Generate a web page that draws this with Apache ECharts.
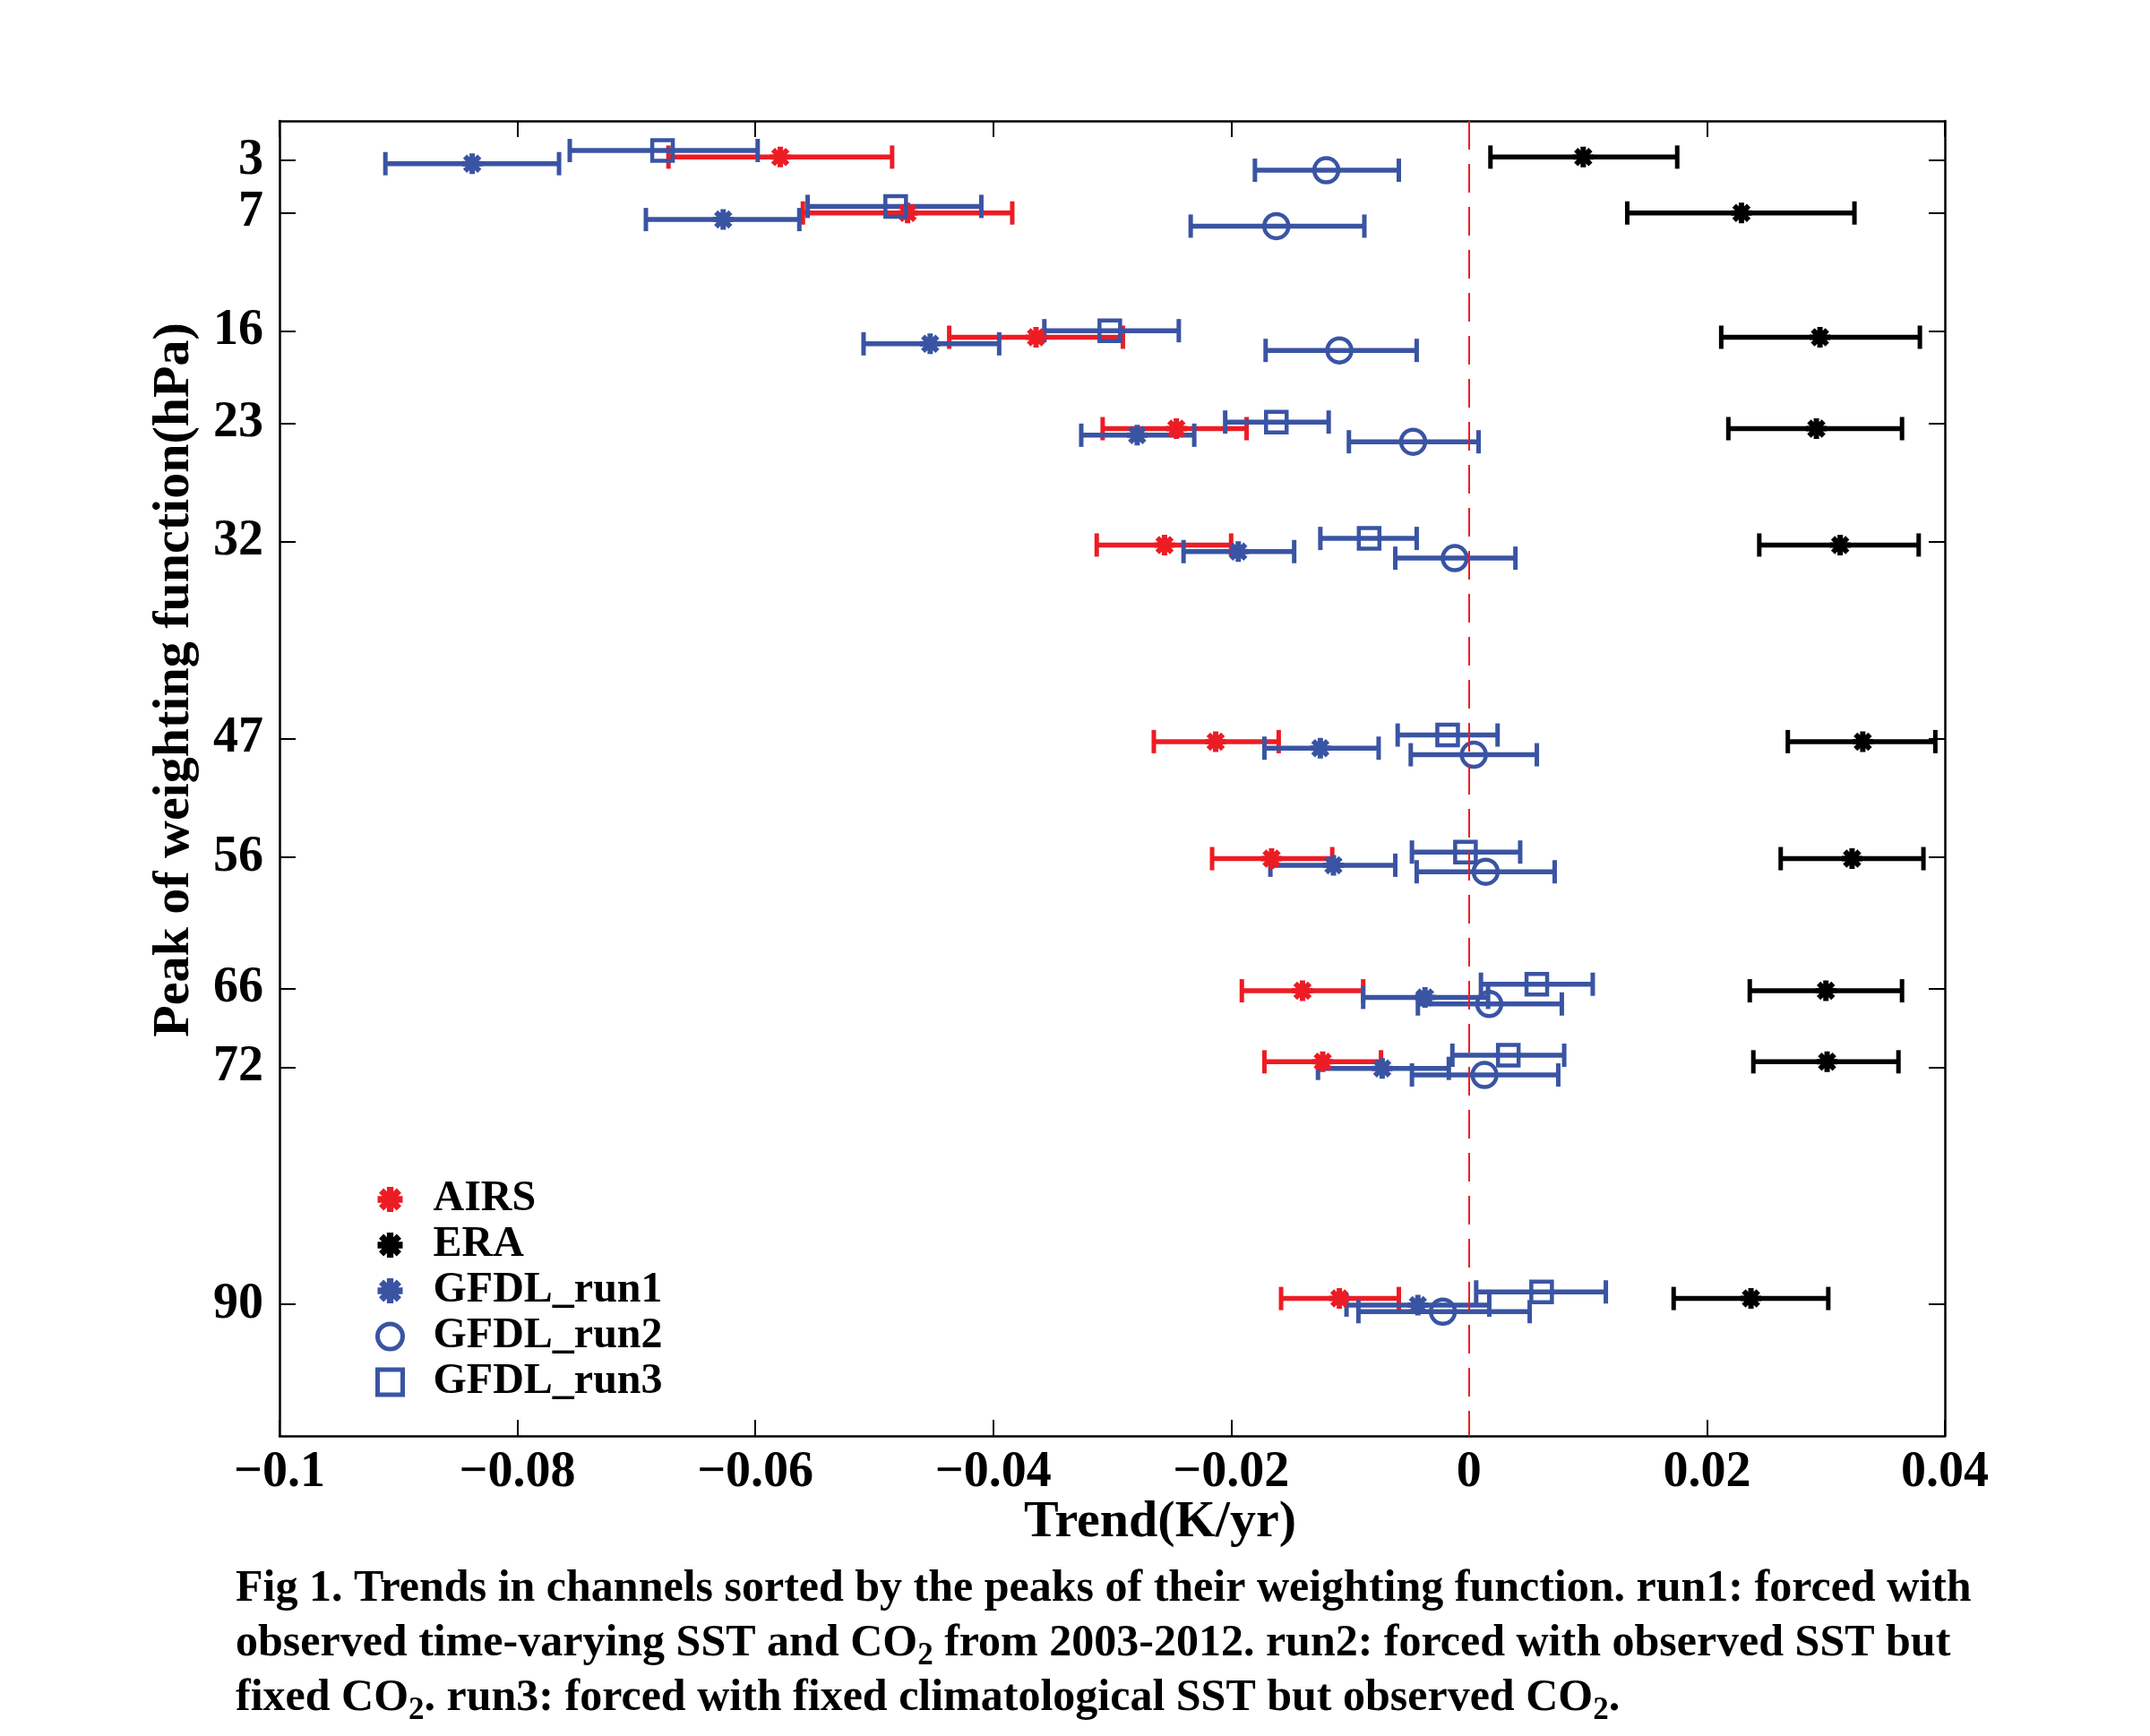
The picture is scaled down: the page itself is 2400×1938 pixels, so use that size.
<!DOCTYPE html>
<html>
<head>
<meta charset="utf-8">
<title>Trends by weighting function peak</title>
<script src="https://cdn.jsdelivr.net/npm/echarts@6/dist/echarts.min.js"></script>
<style>
  html, body { margin: 0; padding: 0; background: #fff; }
  #chart { width: 2400px; height: 1938px; }
</style>
</head>
<body>
<div id="chart"></div>
<script>
// tick labels on the pressure axis (hPa)
var yTicks = [3, 7, 16, 23, 32, 47, 56, 66, 72, 90];
// where the AIRS/ERA marks of each channel sit on the pressure axis
var levels = [2.75, 7, 16.45, 23.4, 32.25, 47.2, 56.1, 66.15, 71.55, 89.55];

// trend (K/yr): centre, lower end, upper end
var airsMid = [-0.0579, -0.0472, -0.0364, -0.0246, -0.0256, -0.0213, -0.0166, -0.0140, -0.0123, -0.0109];
var airsLo  = [-0.0673, -0.0560, -0.0437, -0.0308, -0.0313, -0.0265, -0.0216, -0.0191, -0.0172, -0.0158];
var airsHi  = [-0.0485, -0.0384, -0.0291, -0.0187, -0.0200, -0.0160, -0.0115, -0.0089, -0.0074, -0.0059];

var eraMid = [0.0096, 0.0229, 0.0295, 0.0292, 0.0312, 0.0331, 0.0322, 0.0300, 0.0301, 0.0237];
var eraLo  = [0.0018, 0.0133, 0.0212, 0.0218, 0.0244, 0.0268, 0.0262, 0.0236, 0.0239, 0.0172];
var eraHi  = [0.0175, 0.0324, 0.0379, 0.0364, 0.0378, 0.0392, 0.0382, 0.0364, 0.0361, 0.0302];

var run1Mid = [-0.0838, -0.0627, -0.0453, -0.0279, -0.0194, -0.0125, -0.0114, -0.0037, -0.0073, -0.0043];
var run1Lo  = [-0.0911, -0.0692, -0.0509, -0.0326, -0.0240, -0.0172, -0.0167, -0.0089, -0.0127, -0.0103];
var run1Hi  = [-0.0765, -0.0563, -0.0395, -0.0231, -0.0147, -0.0076, -0.0062, 0.0016, -0.0017, 0.0017];

var run2Mid = [-0.0120, -0.0162, -0.0109, -0.0047, -0.0012, 0.0004, 0.0014, 0.0017, 0.0013, -0.0022];
var run2Lo  = [-0.0180, -0.0234, -0.0171, -0.0101, -0.0062, -0.0049, -0.0044, -0.0043, -0.0048, -0.0093];
var run2Hi  = [-0.0059, -0.0088, -0.0044, 0.0008, 0.0039, 0.0057, 0.0072, 0.0078, 0.0075, 0.0051];

var run3Mid = [-0.0678, -0.0482, -0.0302, -0.0162, -0.0084, -0.0018, -0.0003, 0.0057, 0.0033, 0.0061];
var run3Lo  = [-0.0756, -0.0556, -0.0357, -0.0205, -0.0125, -0.0060, -0.0048, 0.0010, -0.0014, 0.0006];
var run3Hi  = [-0.0598, -0.0410, -0.0244, -0.0118, -0.0044, 0.0024, 0.0043, 0.0104, 0.0080, 0.0115];

var FONT = '"Liberation Serif", "Times New Roman", serif';
var RED = '#ED1C24', BLUE = '#3A54A4', BLACK = '#000';

// asterisk marker like matlab's '*' (4 thick strokes)
var STAR = 'path://M0 7.4L20 7.4L20 12.6L0 12.6Z M7.4 0L12.6 0L12.6 20L7.4 20Z' +
  'M4.77 1.09L18.91 15.23L15.23 18.91L1.09 4.77Z M18.91 4.77L4.77 18.91L1.09 15.23L15.23 1.09Z';

var sets = [
  { name: 'AIRS', mid: airsMid, lo: airsLo, hi: airsHi, shift: 0, color: RED, symbol: STAR, size: 23 },
  { name: 'ERA', mid: eraMid, lo: eraLo, hi: eraHi, shift: 0, color: BLACK, symbol: STAR, size: 23 },
  { name: 'GFDL_run1', mid: run1Mid, lo: run1Lo, hi: run1Hi, shift: 0.5, color: BLUE, symbol: STAR, size: 23 },
  { name: 'GFDL_run2', mid: run2Mid, lo: run2Lo, hi: run2Hi, shift: 1.0, color: BLUE, symbol: 'circle', size: 27, hollow: true },
  { name: 'GFDL_run3', mid: run3Mid, lo: run3Lo, hi: run3Hi, shift: -0.5, color: BLUE, symbol: 'rect', size: 23, hollow: true }
];

function errBars(color) {
  return function (params, api) {
    var y = api.value(3);
    var a = api.coord([api.value(1), y]);
    var b = api.coord([api.value(2), y]);
    var h = 13;
    return {
      type: 'group',
      children: [
        { type: 'line', shape: { x1: a[0], y1: a[1], x2: b[0], y2: b[1] }, style: { stroke: color, lineWidth: 5.5 } },
        { type: 'line', shape: { x1: a[0], y1: a[1] - h, x2: a[0], y2: a[1] + h }, style: { stroke: color, lineWidth: 5 } },
        { type: 'line', shape: { x1: b[0], y1: b[1] - h, x2: b[0], y2: b[1] + h }, style: { stroke: color, lineWidth: 5 } }
      ]
    };
  };
}

var series = [];
sets.forEach(function (s, k) {
  var rows = s.mid.map(function (m, i) { return [m, s.lo[i], s.hi[i], levels[i] + s.shift]; });
  series.push({
    name: s.name + ' range',
    type: 'custom',
    renderItem: errBars(s.color),
    encode: { x: [0, 1, 2], y: 3 },
    data: rows,
    silent: true
  });
  var sc = {
    name: s.name,
    type: 'scatter',
    symbol: s.symbol,
    symbolSize: s.size,
    data: rows.map(function (r) { return [r[0], r[3]]; }),
    itemStyle: s.hollow
      ? { color: 'rgba(255,255,255,0)', borderColor: s.color, borderWidth: 4.5, opacity: 1 }
      : { color: s.color, opacity: 1 },
    emphasis: { disabled: true }
  };
  if (k === 0) {
    sc.markLine = {
      silent: true,
      symbol: 'none',
      label: { show: false },
      lineStyle: { color: RED, width: 2, type: [32, 16], opacity: 1 },
      data: [{ xAxis: 0 }]
    };
  }
  series.push(sc);
});

// legend entries: hollow markers keep their thick outline
var legendItems = sets.map(function (s) {
  var it = { name: s.name };
  if (s.hollow) {
    it.itemStyle = { color: 'rgba(255,255,255,0)', borderColor: s.color, borderWidth: 5 };
  }
  if (s.symbol === 'rect') it.icon = 'rect';
  return it;
});

function trendLabel(v) {
  var a = +Math.abs(v).toFixed(2);
  return (v < -1e-9 ? '\u2212' : '') + a;
}

var axisCommon = {
  axisLine: { show: true, onZero: false, lineStyle: { color: '#000', width: 2.5 } },
  axisTick: { show: true, inside: true, length: 18, lineStyle: { color: '#000', width: 2 } },
  splitLine: { show: false }
};

var chart = echarts.init(document.getElementById('chart'), null, { renderer: 'canvas' });
chart.setOption({
  backgroundColor: '#fff',
  animation: false,
  grid: { left: 312, right: 229, top: 135, bottom: 335 },
  xAxis: [
    Object.assign({
      type: 'value', position: 'bottom', min: -0.1, max: 0.04, interval: 0.02,
      axisLabel: { formatter: trendLabel, fontFamily: FONT, fontWeight: 'bold', fontSize: 56, color: '#000', margin: 14 }
    }, axisCommon),
    Object.assign({
      type: 'value', position: 'top', min: -0.1, max: 0.04, interval: 0.02,
      axisLabel: { show: false }
    }, axisCommon)
  ],
  yAxis: [
    Object.assign({}, axisCommon, {
      type: 'value', position: 'left', inverse: true, min: 0, max: 100,
      axisTick: { show: true, inside: true, length: 18, customValues: yTicks, lineStyle: { color: '#000', width: 2 } },
      axisLabel: { customValues: yTicks, fontFamily: FONT, fontWeight: 'bold', fontSize: 56, color: '#000', margin: 18 }
    }),
    Object.assign({}, axisCommon, {
      type: 'value', position: 'right', inverse: true, min: 0, max: 100,
      axisTick: { show: true, inside: true, length: 18, customValues: yTicks, lineStyle: { color: '#000', width: 2 } },
      axisLabel: { show: false }
    })
  ],
  legend: {
    data: legendItems,
    orient: 'vertical',
    left: 414,
    top: 1310,
    itemWidth: 28,
    itemHeight: 28,
    itemGap: 3,
    selectedMode: false,
    textStyle: { fontFamily: FONT, fontWeight: 'bold', fontSize: 48, color: '#000', padding: [0, 0, 0, 29] }
  },
  graphic: [
    {
      type: 'text', x: 195, y: 759, rotation: Math.PI / 2,
      style: { text: 'Peak of weighting function(hPa)', font: 'bold 58px ' + FONT, fill: '#000', align: 'center', verticalAlign: 'middle' }
    },
    {
      type: 'text', x: 1295, y: 1700,
      style: { text: 'Trend(K/yr)', font: 'bold 58px ' + FONT, fill: '#000', align: 'center', verticalAlign: 'middle' }
    },
    {
      type: 'text', x: 263, y: 1744,
      style: {
        text: 'Fig 1. Trends in channels sorted by the peaks of their weighting function. run1: forced with\n' +
              'observed time-varying SST and CO{sub|2} from 2003-2012. run2: forced with observed SST but\n' +
              'fixed CO{sub|2}. run3: forced with fixed climatological SST but observed CO{sub|2}.',
        fontFamily: FONT, fontWeight: 'bold', fontSize: 50, lineHeight: 61, fill: '#000',
        align: 'left', verticalAlign: 'top',
        rich: {
          sub: { fontFamily: FONT, fontWeight: 'bold', fontSize: 35, lineHeight: 28, verticalAlign: 'bottom', fill: '#000' }
        }
      }
    }
  ],
  series: series
});
</script>
</body>
</html>
